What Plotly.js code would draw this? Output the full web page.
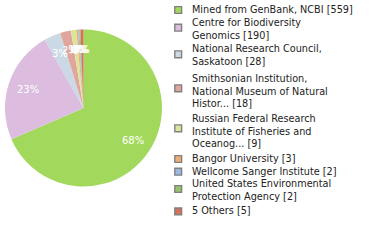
<!DOCTYPE html>
<html><head><meta charset="utf-8">
<script src="https://cdn.plot.ly/plotly-3.0.1.min.js"></script>
<style>html,body{margin:0;padding:0;background:#fff;}#chart{width:380px;height:240px;}</style>
</head><body><div id="chart"></div>
<script>
// ---- data ----
const labels = [
  "Mined from GenBank, NCBI",
  "Centre for Biodiversity<br>Genomics",
  "National Research Council,<br>Saskatoon",
  "Smithsonian Institution,<br>National Museum of Natural<br>Histor...",
  "Russian Federal Research<br>Institute of Fisheries and<br>Oceanog...",
  "Bangor University",
  "Wellcome Sanger Institute",
  "United States Environmental<br>Protection Agency",
  "5 Others"
];
const values = [559, 190, 28, 18, 9, 3, 2, 2, 5];
const colors = ["#a2d95c", "#dcbde0", "#cbd9e5", "#e0a59c", "#dde59c", "#efac72", "#9bb9e0", "#96c36b", "#d8705a"];

// ---- layout constants (pixels) ----
const W = 380, H = 240;
const pieCx = 83.5, pieCy = 108, pieR = 78.5;
const labelRadiusFrac = 0.75;
const legendFirstLineY = [9.3, 22.7, 49.3, 79, 119, 158.3, 171, 184, 210.7];
const lineStep = 11.7;
const legendFont = {family: "DejaVu Sans", size: 9.7, color: "#222"};
const pctFont = {family: "DejaVu Sans", size: 10, color: "#ffffff"};

const total = values.reduce((a, b) => a + b, 0);
const pctText = values.map(v => Math.floor(v / total * 100) + "%");

const trace = {
  type: "pie",
  values: values,
  labels: labels.map(l => l.replace(/<br>/g, " ")),
  textinfo: "none",
  sort: false,
  direction: "clockwise",
  rotation: 0,
  marker: {colors: colors, line: {width: 0}},
  hoverinfo: "none",
  showlegend: false,
  domain: {x: [(pieCx - pieR) / W, (pieCx + pieR) / W], y: [1 - (pieCy + pieR) / H, 1 - (pieCy - pieR) / H]}
};

const shapes = [], annotations = [];

// percent labels at the middle angle of each slice (computed from the values)
let cum = 0;
values.forEach((v, i) => {
  const mid = (cum + v / 2) / total * 2 * Math.PI; // clockwise from 12 o'clock
  cum += v;
  const r = pieR * labelRadiusFrac;
  const px = pieCx + r * Math.sin(mid);
  const py = pieCy - r * Math.cos(mid);
  annotations.push({
    xref: "paper", yref: "paper", x: px / W, y: 1 - py / H,
    xanchor: "center", yanchor: "middle", showarrow: false,
    borderpad: 0, borderwidth: 0,
    text: pctText[i], font: pctFont
  });
});

// legend
labels.forEach((lab, i) => {
  const n = lab.split("<br>").length;
  const y1 = legendFirstLineY[i];
  const boxC = y1 + 0.7 + (n - 1) * 4.3;
  shapes.push({
    type: "rect", xref: "paper", yref: "paper",
    x0: 174.8 / W, x1: 181.6 / W,
    y0: 1 - (boxC - 3.4) / H, y1: 1 - (boxC + 3.4) / H,
    fillcolor: colors[i], line: {color: "#808080", width: 1.4}
  });
  annotations.push({
    xref: "paper", yref: "paper",
    x: 192 / W, y: 1 - (y1 + (n - 1) * lineStep / 2) / H,
    xanchor: "left", yanchor: "middle", align: "left",
    showarrow: false, borderpad: 0, borderwidth: 0,
    text: lab + " [" + values[i] + "]",
    font: legendFont
  });
});

Plotly.newPlot("chart", [trace], {
  width: W, height: H,
  margin: {l: 0, r: 0, t: 0, b: 0},
  paper_bgcolor: "#ffffff",
  showlegend: false,
  shapes: shapes,
  annotations: annotations
}, {staticPlot: true});
</script></body></html>
